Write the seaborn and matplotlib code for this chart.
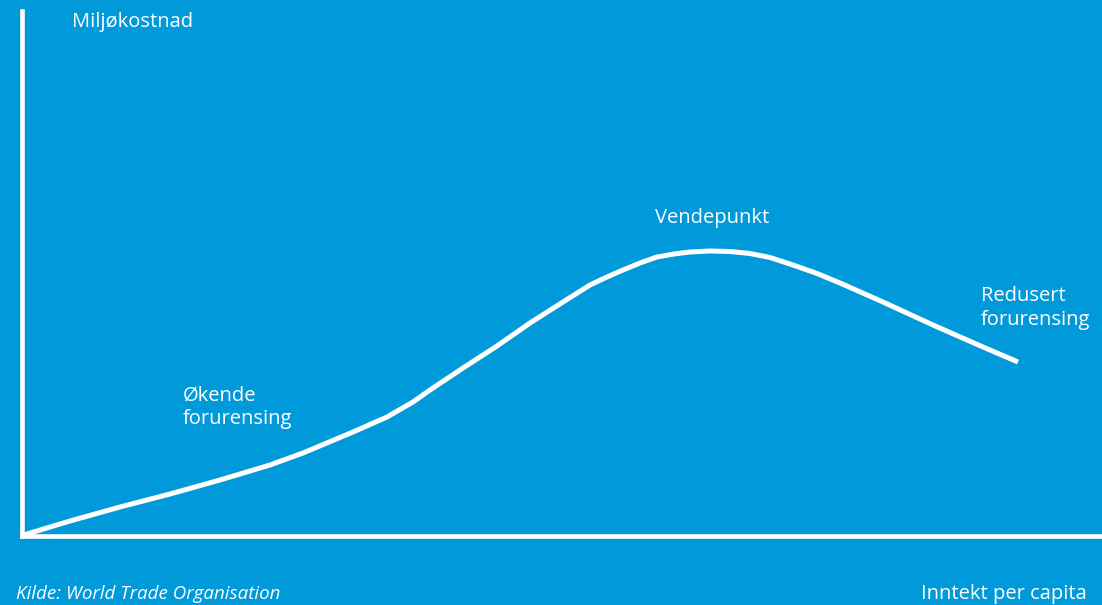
import matplotlib
matplotlib.use("Agg")
import matplotlib.pyplot as plt
import seaborn as sns
import pandas as pd

# Curve (income, environmental cost), arbitrary units
inntekt = [0, 48, 98, 148, 198, 248, 281, 331, 365, 391, 408, 441, 475, 508, 541,
           568, 585, 601, 618, 635, 652, 668, 688, 708, 728, 748, 771, 795, 818,
           861, 911, 961, 996]
miljokostnad = [0, 14.5, 28.5, 41.5, 55.5, 70.5, 82.5, 103.5, 118.5, 133.5, 145.5,
                167.5, 189.5, 212.5, 233.5, 250.5, 258.5, 265.5, 272.5, 278.5,
                281.5, 283.5, 284.5, 284, 282, 278, 270.5, 262, 252.5,
                233.5, 210.5, 188.5, 173.5]

labels = {
    "y": "Miljøkostnad",
    "x": "Inntekt per capita",
    "turn": "Vendepunkt",
    "rising": "Økende\nforurensing",
    "falling": "Redusert\nforurensing",
    "source": "Kilde: World Trade Organisation",
}

BG = "#009ADA"
W, H = 1102, 605

sns.set_theme(style="white")
plt.rcParams["font.family"] = ["Open Sans", "DejaVu Sans"]

fig = plt.figure(figsize=(W / 100, H / 100), dpi=100)
fig.patch.set_facecolor(BG)

left, right, top, bottom = 22, 1102, 11, 535.5
ax = fig.add_axes([left / W, (H - bottom) / H, (right - left) / W, (bottom - top) / H])
ax.set_facecolor(BG)

df = pd.DataFrame({"inntekt": inntekt, "miljo": miljokostnad})
sns.lineplot(data=df, x="inntekt", y="miljo", ax=ax, color="white", lw=3.6,
             sort=False, solid_capstyle="butt", solid_joinstyle="round")

ax.set_xlim(0, right - left)
ax.set_ylim(0, bottom - top)
ax.set_xticks([])
ax.set_yticks([])
ax.set_xlabel("")
ax.set_ylabel("")
for s in ["top", "right"]:
    ax.spines[s].set_visible(False)
for s in ["left", "bottom"]:
    ax.spines[s].set_color("white")
    ax.spines[s].set_linewidth(3.3)

fs = 14.5
def ftext(px, py, s, size=fs, **kw):
    fig.text(px / W, 1 - py / H, s, color="white", fontsize=size, **kw)

ftext(72, 22, labels["y"], va="center", ha="left")
ftext(1087, 594, labels["x"], va="center", ha="right")
ftext(712, 218, labels["turn"], va="center", ha="center")
ftext(183, 407, labels["rising"], va="center", ha="left", linespacing=1.25)
ftext(981, 308, labels["falling"], va="center", ha="left", linespacing=1.25)
ftext(16, 603, labels["source"], size=13.5, va="bottom", ha="left", style="italic")

fig.savefig("out.png", dpi=100, facecolor=BG)
